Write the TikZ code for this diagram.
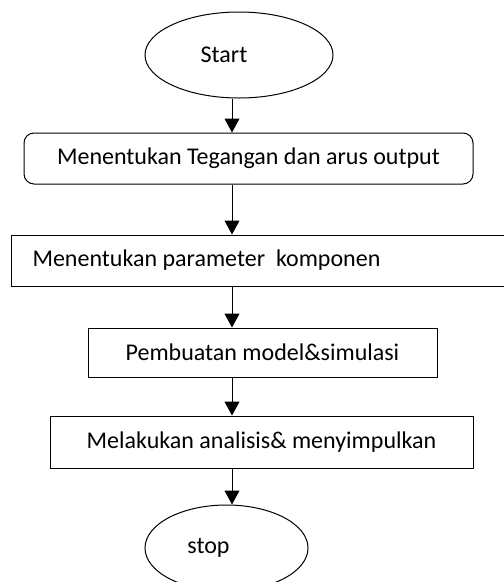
\documentclass[tikz,border=0pt]{standalone}
\usepackage{fontspec}
\setmainfont{Carlito}
\usetikzlibrary{arrows.meta,shapes.geometric}

\begin{document}
\begin{tikzpicture}[x=1pt, y=-1pt, line width=1pt,
    font=\fontsize{24}{29}\selectfont,
    term/.style={draw, ellipse, inner sep=0pt, minimum height=86pt},
    procbox/.style={draw, inner sep=0pt},
    flow/.style={-{Triangle[length=14pt, width=15pt]}}]
      \useasboundingbox (0,0) rectangle (504,582);
      \coordinate (axis) at (232,0);
      \node[term, minimum width=188pt] (start) at (239,55) {Start\hspace*{30pt}};
      \node[procbox, rounded corners=10pt, minimum width=449pt, minimum height=51pt] (tegangan) at (248.5,158.5) {Menentukan Tegangan dan arus output};
      \node[procbox, anchor=west, minimum height=51pt, inner xsep=21pt, text width=467pt, align=flush left] (parameter) at (11,260.5) {Menentukan parameter\ \ komponen};
      \node[procbox, minimum width=349pt, minimum height=49pt] (model) at (262.5,352.5) {Pembuatan model\&simulasi};
      \node[procbox, minimum width=423pt, minimum height=52pt] (analisis) at (261.5,442) {Melakukan analisis\& menyimpulkan};
      \node[term, minimum width=163pt] (stop) at (226.5,548) {stop\hspace*{36pt}};
      \draw[flow] (start.south -| axis) -- (tegangan.north -| axis);
      \draw[flow] (tegangan.south -| axis) -- (parameter.north -| axis);
      \draw[flow] (parameter.south -| axis) -- (model.north -| axis);
      \draw[flow] (model.south -| axis) -- (analisis.north -| axis);
      \draw[flow] (analisis.south -| axis) -- (stop.north -| axis);
\end{tikzpicture}
\end{document}
